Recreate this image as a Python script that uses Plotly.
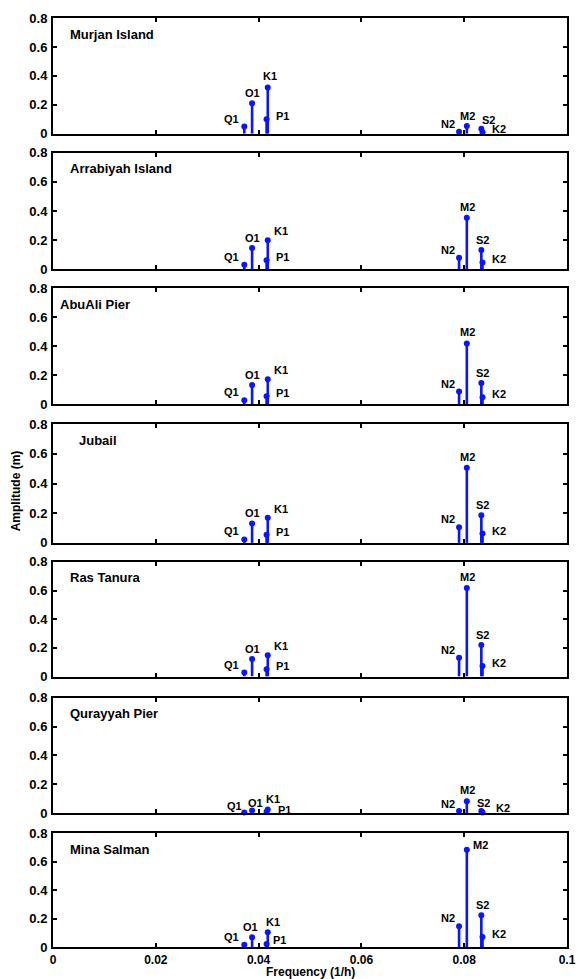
import plotly.graph_objects as go
from plotly.subplots import make_subplots

# Tidal constituents and their frequencies (cycles per hour)
constituents = ["Q1", "O1", "P1", "K1", "N2", "M2", "S2", "K2"]
frequencies = [0.0372185, 0.0387307, 0.0415526, 0.0417807,
               0.0789992, 0.0805114, 0.0833333, 0.0835615]

# Stations, top to bottom
stations = ["Murjan Island", "Arrabiyah Island", "AbuAli Pier", "Jubail",
            "Ras Tanura", "Qurayyah Pier", "Mina Salman"]

# Amplitudes (m), ordered as in `constituents`
amp_murjan = [0.050, 0.210, 0.100, 0.320, 0.014, 0.053, 0.034, 0.010]
amp_arrabiyah = [0.032, 0.148, 0.064, 0.200, 0.080, 0.355, 0.134, 0.048]
amp_abuali = [0.028, 0.133, 0.055, 0.172, 0.087, 0.420, 0.147, 0.048]
amp_jubail = [0.023, 0.131, 0.054, 0.170, 0.106, 0.507, 0.186, 0.063]
amp_rastanura = [0.028, 0.123, 0.051, 0.148, 0.132, 0.617, 0.220, 0.074]
amp_qurayyah = [0.005, 0.019, 0.010, 0.026, 0.016, 0.084, 0.016, 0.005]
amp_minasalman = [0.015, 0.068, 0.021, 0.103, 0.146, 0.685, 0.223, 0.070]

amplitudes = [amp_murjan, amp_arrabiyah, amp_abuali, amp_jubail,
              amp_rastanura, amp_qurayyah, amp_minasalman]

x_ticks = [0, 0.02, 0.04, 0.06, 0.08, 0.1]
y_ticks = [0, 0.2, 0.4, 0.6, 0.8]

FONT = "Liberation Sans, Arial, sans-serif"
BLUE = "#0a14ff"

# Label placement: (xanchor, xshift, yshift) in pixels relative to the stem head
label_place = {
    "Q1": ("right", -3, 8),
    "O1": ("center", 0, 10),
    "P1": ("left", 7, 3),
    "K1": ("left", 4, 9),
    "N2": ("right", -2, 8),
    "M2": ("center", 1, 11),
    "S2": ("center", 1, 10),
    "K2": ("left", 7, 3),
}
panel_overrides = {
    0: {"K1": ("center", 2, 11), "S2": ("center", 7, 9), "M2": ("center", 1, 10)},
    5: {"Q1": ("right", 0, 7), "O1": ("center", 3, 8), "K1": ("center", 5, 11),
        "P1": ("left", 9, 2), "N2": ("right", -2, 7), "S2": ("center", 2, 8),
        "K2": ("left", 11, 5)},
    6: {"M2": ("left", 4, 5), "K1": ("center", 5, 10), "O1": ("center", -2, 10),
        "P1": ("left", 4, 4)},
}
title_x = [15, 15, 5, 24, 15, 15, 15]  # title offsets from panel left (px)

# Panel domains in paper coordinates (bottom, top)
domains = [(0.8754, 1.0), (0.7293, 0.855), (0.5843, 0.7089), (0.435, 0.5628),
           (0.2911, 0.4146), (0.1439, 0.2685), (0.0, 0.1224)]

n = len(stations)
fig = make_subplots(rows=n, cols=1)

annotations = []
for i, (name, amps) in enumerate(zip(stations, amplitudes)):
    row = i + 1
    fig.add_trace(
        go.Scatter(
            x=frequencies,
            y=amps,
            mode="markers",
            marker=dict(color=BLUE, size=6),
            error_y=dict(type="data", symmetric=False,
                         array=[0] * len(amps), arrayminus=amps,
                         width=0, thickness=2.6, color=BLUE),
            cliponaxis=False,
            showlegend=False,
            hoverinfo="x+y",
        ),
        row=row, col=1,
    )
    ax = "" if row == 1 else str(row)
    # Station name
    annotations.append(dict(
        text=name, xref=f"x{ax} domain", yref=f"y{ax} domain",
        x=title_x[i] / 523, y=1, xanchor="left", yanchor="middle", yshift=-16,
        showarrow=False, font=dict(family=FONT, size=13, color="black", weight="bold"),
    ))
    # Constituent labels
    for c, f, a in zip(constituents, frequencies, amps):
        xa, xs, ys = panel_overrides.get(i, {}).get(c, label_place[c])
        annotations.append(dict(
            text=c, xref=f"x{ax}", yref=f"y{ax}", x=f, y=a,
            xanchor=xa, yanchor="middle", xshift=xs, yshift=ys,
            showarrow=False, font=dict(family=FONT, size=11, color="black", weight="bold"),
        ))

    fig.update_xaxes(
        range=[0, 0.1], tickvals=x_ticks, ticks="inside", ticklen=4, tickwidth=1.5,
        tickcolor="black", showline=True, linewidth=2, linecolor="black",
        mirror="ticks", showgrid=False, zeroline=False,
        showticklabels=(row == n),
        tickfont=dict(family=FONT, size=12, color="black", weight="bold"),
        ticklabelstandoff=1,
        row=row, col=1,
    )
    fig.update_yaxes(
        range=[0, 0.8], tickvals=y_ticks, ticks="inside", ticklen=4, tickwidth=1.5,
        tickcolor="black", showline=True, linewidth=2, linecolor="black",
        mirror="ticks", showgrid=False, zeroline=False,
        domain=[domains[i][0], domains[i][1]],
        tickfont=dict(family=FONT, size=13, color="black", weight="bold"),
        ticklabelstandoff=1,
        row=row, col=1,
    )

# Axis titles
annotations.append(dict(
    text="Amplitude (m)", xref="paper", yref="paper", x=-0.073, y=0.491,
    textangle=-90, xanchor="center", yanchor="middle", showarrow=False,
    font=dict(family=FONT, size=12, color="black", weight="bold"),
))
annotations.append(dict(
    text="Frequency (1/h)", xref="paper", yref="paper", x=0.5, y=-0.0265,
    xanchor="center", yanchor="middle", showarrow=False,
    font=dict(family=FONT, size=12, color="black", weight="bold"),
))

fig.update_layout(
    width=587, height=979,
    margin=dict(l=53, r=11, t=16, b=32),
    paper_bgcolor="white", plot_bgcolor="white",
    annotations=annotations,
)

fig.write_html("out.html")
